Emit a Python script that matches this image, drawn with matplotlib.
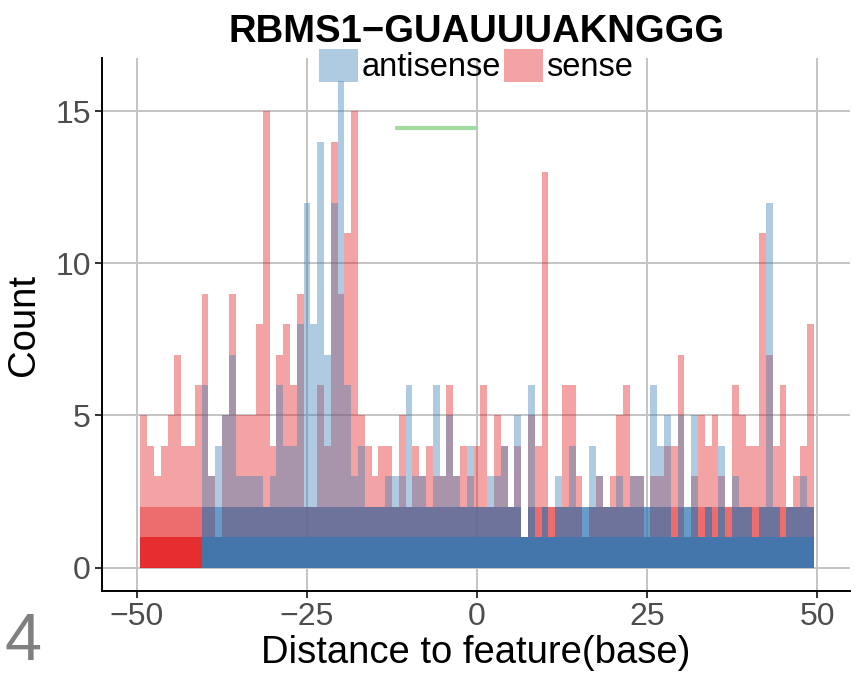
#--------------------------------------
# Histograma de distancias al motivo RBMS1 (sense / antisense)
#--------------------------------------

# Importacion de librerias
import numpy as np
import matplotlib
matplotlib.use("Agg")
import matplotlib.pyplot as plt
from matplotlib.patches import Patch

plt.rcParams['font.family'] = ['Liberation Sans', 'DejaVu Sans']

# Datos (conteo por base, de -49 a 49)
posiciones = np.arange(-49, 50)

sense = [5, 4, 3, 4, 5, 7, 4, 4, 6, 9,
         3, 1, 5, 9, 5, 5, 5, 8, 15, 4,
         7, 8, 6, 9, 2, 2, 6, 4, 14, 9,
         11, 15, 5, 4, 3, 4, 4, 2, 5, 2,
         4, 3, 4, 3, 3, 6, 3, 4, 3, 4,
         6, 2, 5, 4, 2, 4, 1, 5, 4, 13,
         2, 2, 6, 6, 3, 1, 2, 3, 2, 3,
         5, 6, 3, 3, 1, 3, 3, 4, 4, 7,
         1, 3, 5, 4, 5, 3, 2, 6, 5, 4,
         4, 11, 7, 4, 6, 2, 3, 4, 8]

antisense = [0, 0, 0, 0, 0, 0, 0, 0, 0,
             6, 3, 4, 5, 7, 3, 3, 3, 3, 2,
             3, 6, 4, 4, 8, 12, 8, 14, 7, 12,
             16, 6, 3, 4, 2, 2, 2, 3, 3, 3,
             6, 3, 3, 2, 6, 3, 5, 3, 2, 4,
             2, 2, 3, 3, 4, 2, 5, 1, 6, 1,
             2, 1, 3, 2, 4, 2, 2, 4, 3, 2,
             2, 3, 2, 3, 3, 2, 6, 4, 5, 1,
             5, 2, 5, 1, 2, 1, 4, 1, 3, 2,
             2, 1, 2, 12, 2, 1, 2, 2, 3, 2]

# Segmento verde (region del motivo)
motivo_x = [-12, 0]
motivo_y = [14.45, 14.45]

rojo = "#E41A1C"
azul = "#377EB8"

fig = plt.figure(figsize=(8.64, 6.76), dpi=100)
ax = fig.add_axes([102 / 864, 1 - 591 / 676, 748 / 864, 533 / 676])

s = np.array(sense)
a = np.array(antisense)

# Capas superpuestas (mas oscuro cerca de la base)
ax.bar(posiciones, s, width=1, color=rojo, alpha=0.4, lw=0)
ax.bar(posiciones, a, width=1, color=azul, alpha=0.4, lw=0)
ax.bar(posiciones, np.minimum(s, 2), width=1, color=rojo, alpha=0.4, lw=0)
ax.bar(posiciones, np.minimum(a, 2), width=1, color=azul, alpha=0.6, lw=0)
ax.bar(posiciones, np.minimum(s, 1), width=1, color=rojo, alpha=0.75, lw=0)
ax.bar(posiciones, np.minimum(a, 1), width=1, color=azul, alpha=0.9, lw=0)

ax.plot(motivo_x, motivo_y, color="#A6D8A2", lw=3, solid_capstyle="butt")

ax.set_xlim(-55.15, 54.85)
ax.set_ylim(-0.77, 16.75)
ax.set_xticks([-50, -25, 0, 25, 50])
ax.set_yticks([0, 5, 10, 15])
ax.grid(color="#C4C4C4", lw=1.4)
ax.set_axisbelow(True)

for lado in ["top", "right"]:
    ax.spines[lado].set_visible(False)
for lado in ["left", "bottom"]:
    ax.spines[lado].set_linewidth(1.4)
    ax.spines[lado].set_color("black")

ax.tick_params(length=5, width=1.4, color="#333333", labelcolor="#4D4D4D",
               labelsize=23, pad=3)

ax.set_xlabel("Distance to feature(base)", fontsize=27.5, labelpad=2)
ax.set_ylabel("Count", fontsize=27.5, labelpad=10)

fig.text(477 / 864, 1 - 32 / 676, "RBMS1\u2212GUAUUUAKNGGG", fontsize=27.5,
         fontweight="bold", ha="center", va="center")

# Leyenda
handles = [Patch(facecolor=azul, alpha=0.4, lw=0, label="antisense"),
           Patch(facecolor=rojo, alpha=0.4, lw=0, label="sense")]
fig.legend(handles=handles, loc="center", bbox_to_anchor=(476 / 864, 1 - 66 / 676),
           ncol=2, frameon=False, fontsize=23.5, handlelength=1.2,
           handleheight=1.2, handletextpad=0.1, columnspacing=0.1,
           borderpad=0, borderaxespad=0)

# Etiqueta del panel
fig.text(5 / 864, 1 - 643 / 676, "4", fontsize=48, color="#808080",
         ha="left", va="center")

plt.savefig("out.png", dpi=100)
